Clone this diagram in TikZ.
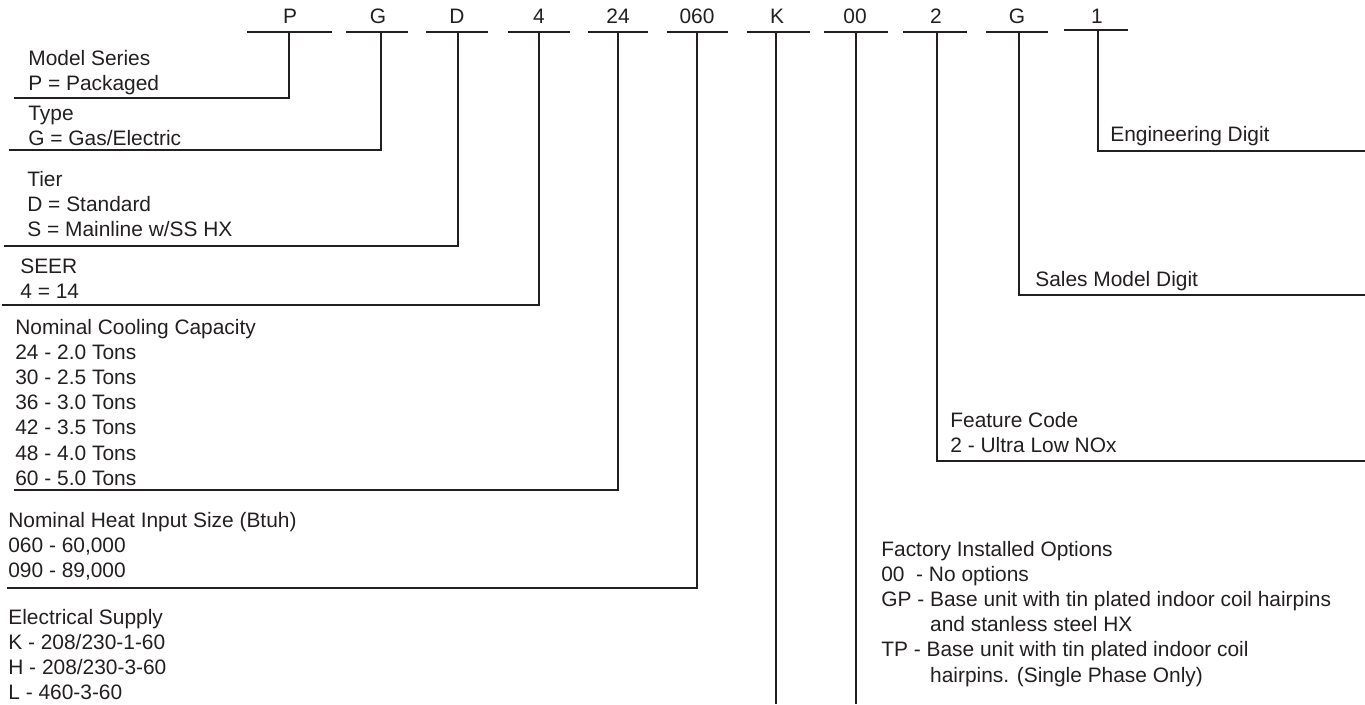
\documentclass[tikz,border=0pt]{standalone}
\usepackage{fontspec}
\setmainfont{Liberation Sans}
\usepackage{xcolor}
\usetikzlibrary{positioning}
\definecolor{ink}{HTML}{231F20}
\newcommand{\wordfont}{\fontsize{11.9}{14.35}\selectfont}
\tikzstyle{code}  = [inner sep=0pt, font=\wordfont, text=ink]
\tikzstyle{bar}   = [line width=1.2pt, color=ink]
\tikzstyle{lead}  = [line width=1.2pt, color=ink]
\tikzstyle{info}  = [anchor=north west, inner sep=0pt, align=left, font=\wordfont, text=ink]

\begin{document}
\begin{tikzpicture}[x=0.02cm, y=-0.02cm]
\useasboundingbox (0,0) rectangle (1365,704);

% kódová písmena
\node[code] (cP) at (290,16) {P};
\node[code] (cG) at (378,16) {G};
\node[code] (cD) at (457,16) {D};
\node[code] (c4) at (539,16) {4};
\node[code] (c24) at (618,16) {24};
\node[code] (c060) at (697,16) {060};
\node[code] (cK) at (777,16) {K};
\node[code] (c00) at (855,16) {00};
\node[code] (c2) at (936,16) {2};
\node[code] (cS) at (1017,16) {G};
\node[code] (c1) at (1097,16) {1};

% podtržení
\coordinate (bP1) at (247,32);  \coordinate (bP2) at (332,32);
\coordinate (bG1) at (346,32);  \coordinate (bG2) at (408,32);
\coordinate (bD1) at (426,32);  \coordinate (bD2) at (488,32);
\coordinate (b41) at (508,32);  \coordinate (b42) at (570,32);
\coordinate (b241) at (588,32); \coordinate (b242) at (648,32);
\coordinate (b0601) at (667,32); \coordinate (b0602) at (728,32);
\coordinate (bK1) at (747,32);  \coordinate (bK2) at (810,32);
\coordinate (b001) at (824,32); \coordinate (b002) at (888,32);
\coordinate (b21) at (903,32);  \coordinate (b22) at (967,32);
\coordinate (bS1) at (986,32);  \coordinate (bS2) at (1048,32);
\coordinate (b11) at (1064,30); \coordinate (b12) at (1128,30);

\draw[bar] (bP1) -- (bP2);
\draw[bar] (bG1) -- (bG2);
\draw[bar] (bD1) -- (bD2);
\draw[bar] (b41) -- (b42);
\draw[bar] (b241) -- (b242);
\draw[bar] (b0601) -- (b0602);
\draw[bar] (bK1) -- (bK2);
\draw[bar] (b001) -- (b002);
\draw[bar] (b21) -- (b22);
\draw[bar] (bS1) -- (bS2);
\draw[bar] (b11) -- (b12);

% popisky vlevo
\node[info] (series) at (28,49.5) {Model Series\\P = Packaged};
\node[info] (type) at (28,105.5) {Type\\G = Gas/Electric};
\node[info] (tier) at (27,171) {Tier\\D = Standard\\S = Mainline w/SS HX};
\node[info] (seer) at (20,258.5) {SEER\\4 = 14};
\node[info] (cool) at (15,318.5) {Nominal Cooling Capacity\\24 - 2.0 Tons\\30 - 2.5 Tons\\36 - 3.0 Tons\\42 - 3.5 Tons\\48 - 4.0 Tons\\60 - 5.0 Tons};
\node[info] (heat) at (8,512) {Nominal Heat Input Size (Btuh)\\060 - 60,000\\090 - 89,000};
\node[info] (elec) at (8,608.5) {Electrical Supply\\K - 208/230-1-60\\H - 208/230-3-60\\L - 460-3-60};

% popisky vpravo
\node[info] (eng) at (1110,125.5) {Engineering Digit};
\node[info] (sales) at (1035,270.5) {Sales Model Digit};
\node[info] (feat) at (950,411.5) {Feature Code\\2 - Ultra Low NOx};
\node[info] (opts) at (881,540.5) {Factory Installed Options\\
00\ \ - No options\\
GP - Base unit with tin plated indoor coil hairpins\\
\phantom{GP - }and stanless steel HX\\
TP - Base unit with tin plated indoor coil\\
\phantom{GP - }hairpins. (Single Phase Only)};

% konce vodítek
\coordinate (eP) at (14,98);
\coordinate (eG) at (9,150);
\coordinate (eD) at (4,246);
\coordinate (e4) at (2,305);
\coordinate (e24) at (14,490);
\coordinate (e060) at (7,588);
\coordinate (eK) at (776,704);
\coordinate (e00) at (856,704);
\coordinate (e2) at (1365,461);
\coordinate (eS) at (1365,295);
\coordinate (e1) at (1365,151);

% vodítka
\draw[lead] (289,32) coordinate (tP) |- (eP);
\draw[lead] (381,32) coordinate (tG) |- (eG);
\draw[lead] (458,32) coordinate (tD) |- (eD);
\draw[lead] (539,32) coordinate (t4) |- (e4);
\draw[lead] (618,32) coordinate (t24) |- (e24);
\draw[lead] (697,32) coordinate (t060) |- (e060);
\draw[lead] (776,32) coordinate (tK) -- (eK);
\draw[lead] (856,32) coordinate (t00) -- (e00);
\draw[lead] (937,32) coordinate (t2) |- (e2);
\draw[lead] (1019,32) coordinate (tS) |- (eS);
\draw[lead] (1098,30) coordinate (t1) |- (e1);

\end{tikzpicture}
\end{document}
